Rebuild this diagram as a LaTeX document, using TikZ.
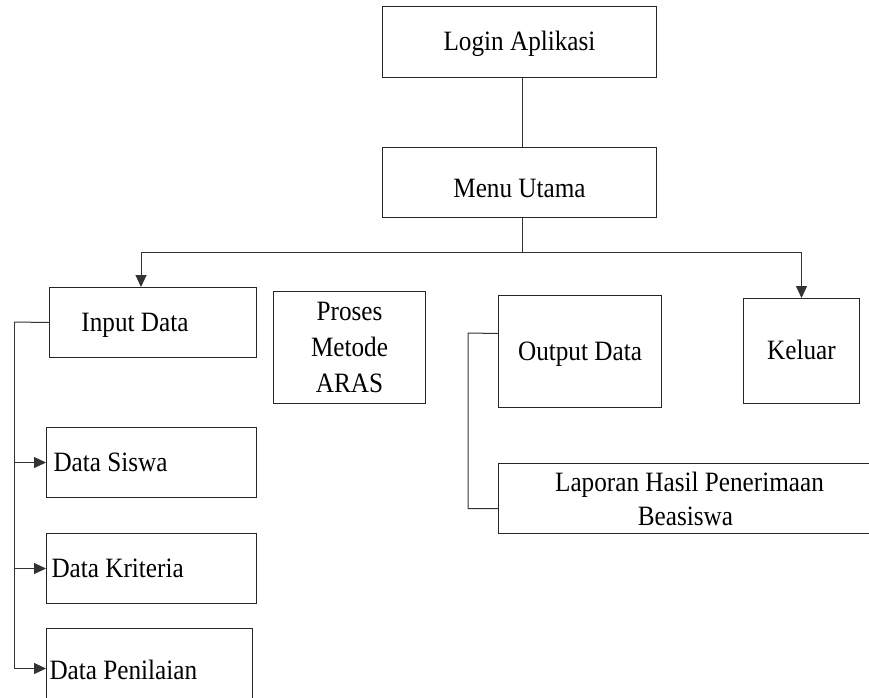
\documentclass[tikz,border=0pt]{standalone}
\usepackage{fontspec}
\setmainfont[FakeStretch=0.9]{Liberation Serif}
\usetikzlibrary{arrows.meta}
\begin{document}
\begin{tikzpicture}[x=1pt,y=-1pt,
  base/.style={draw=black!85, line width=1pt, rectangle, anchor=north west,
    inner sep=0pt, font=\fontsize{28}{35}\selectfont, align=center},
  box/.style={base, text height=17.3pt, text depth=0pt},
  leftbox/.style={box, align=flush left, text width=200pt},
  conn/.style={draw=black!80, line width=1pt},
  arr/.style={conn, -{Triangle[length=12pt,width=11pt]}}]
\useasboundingbox (0,0) rectangle (869,697);
\clip (0,0) rectangle (869,697);
\fill[white] (0,0) rectangle (869,697);

\node[box, minimum width=274pt, minimum height=71pt] (login) at (382,6) {Login Aplikasi};
\node[box, minimum width=274pt, minimum height=70pt, text height=30.3pt] (menu) at (382,147) {Menu Utama};
\node[box, minimum width=207pt, minimum height=70pt] (input) at (49,287) {Input Data\hspace*{36pt}};
\node[base, minimum width=152pt, minimum height=112pt, font=\fontsize{28}{36}\selectfont] (proses) at (273,291) {Proses\\Metode\\ARAS};
\node[box, minimum width=163pt, minimum height=112pt] (output) at (498,295) {Output Data};
\node[box, minimum width=116pt, minimum height=105pt] (keluar) at (743,298) {Keluar};
\node[base, minimum width=382pt, minimum height=70pt, font=\fontsize{28}{34}\selectfont] (laporan) at (498,463) {Laporan Hasil Penerimaan\\Beasiswa\hspace*{8pt}};
\node[leftbox, minimum width=210pt, minimum height=70pt] (siswa) at (46,427) {\hspace*{2pt}Data Siswa};
\node[leftbox, minimum width=210pt, minimum height=70pt] (kriteria) at (46,533) {Data Kriteria};
\node[leftbox, minimum width=206pt, minimum height=90pt, text depth=4.7pt] (penilaian) at (46,628) {Data Penilaian};

\coordinate (bj) at (522,252);
\coordinate (ispine) at (14,322);
\coordinate (ospine) at (468,333);

\draw[conn] (login.south -| bj) -- (menu.north -| bj);
\draw[conn] (menu.south -| bj) -- (bj);
\draw[arr] (bj) -| ([xshift=-12pt]input.north);
\draw[arr] (bj) -| (keluar.north);

\draw[conn] (input.west) -- (ispine);
\draw[arr] (ispine) |- (siswa.west);
\draw[arr] (ispine) |- (kriteria.west);
\draw[arr] (ispine) |- ([yshift=5pt]penilaian.west);

\draw[conn] ([yshift=18pt]output.west) -- (ospine) |- ([yshift=-10pt]laporan.west);
\end{tikzpicture}
\end{document}
